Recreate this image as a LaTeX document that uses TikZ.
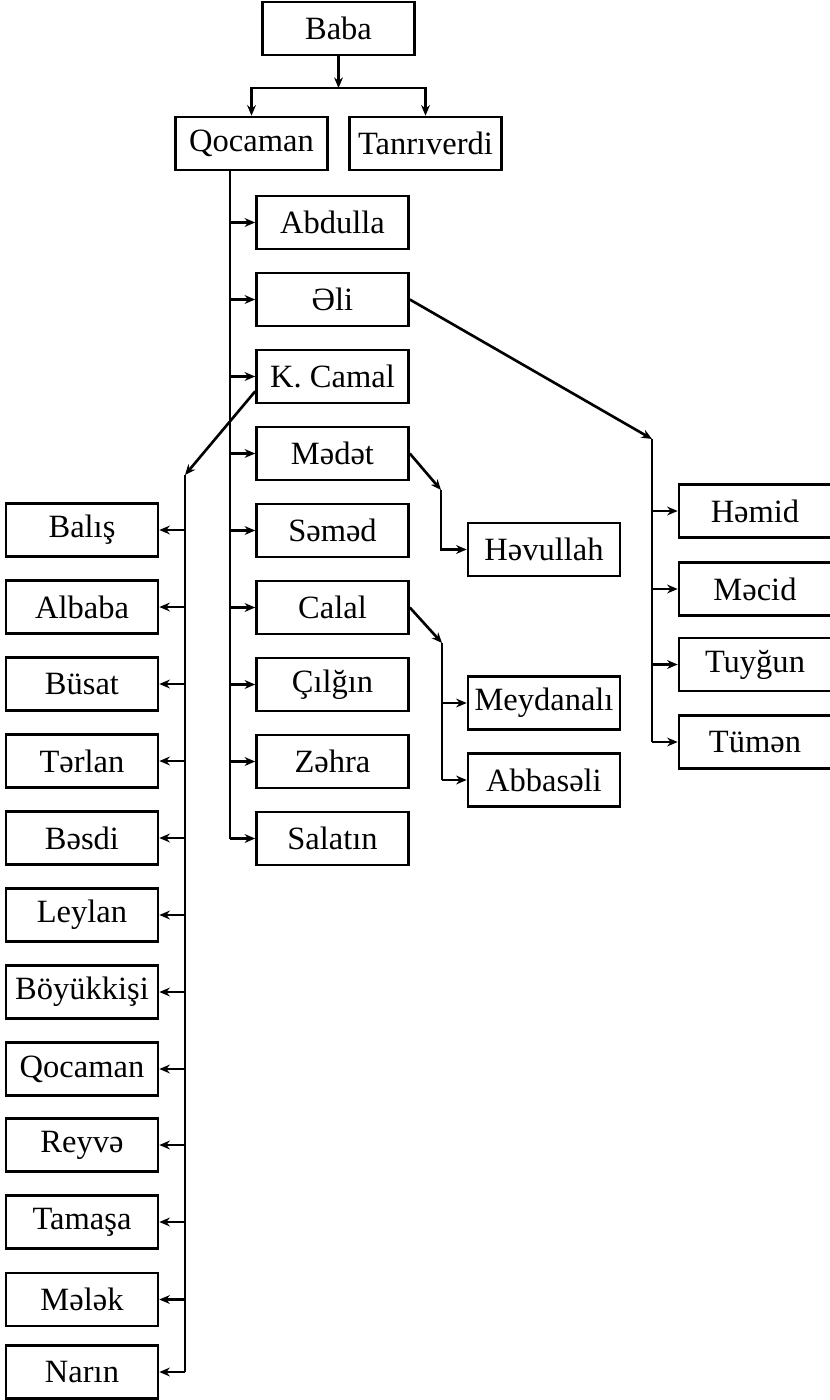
\documentclass[tikz,border=0pt]{standalone}
\usepackage{fontspec}
\setmainfont{Liberation Serif}
\usetikzlibrary{arrows.meta}
\def\BoxW{3.04cm}
\def\BoxH{1.06cm}

\begin{document}
\begin{tikzpicture}[x=0.02cm, y=-0.02cm, line width=1.5pt,
  >={Stealth[length=6pt, width=5pt]},
  person/.style={draw, minimum width=\BoxW, minimum height=\BoxH, inner sep=0pt,
    font=\fontsize{18.5}{20}\selectfont}]
  \useasboundingbox (0,0) rectangle (830,1400);

  \node[person] (baba) at (338.5, 28.5) {Baba};
  \node[person] (qocaman) at (251.5, 143.5) {Qocaman};
  \node[person] (tanriverdi) at (425.5, 143.5) {Tanrıverdi};

  % children of Qocaman
  \node[person] (abdulla) at (332.5, 222.5) {Abdulla};
  \node[person] (eli) at (332.5, 299.5) {Əli};
  \node[person] (kcamal) at (332.5, 376.5) {K. Camal};
  \node[person] (medet) at (332.5, 453.5) {Mədət};
  \node[person] (semed) at (332.5, 530.5) {Səməd};
  \node[person] (calal) at (332.5, 607.5) {Calal};
  \node[person] (cilgin) at (332.5, 684.5) {Çılğın};
  \node[person] (zehra) at (332.5, 761.5) {Zəhra};
  \node[person] (salatin) at (332.5, 838.5) {Salatın};

  \node[person] (hevullah) at (544, 549.5) {Həvullah};
  \node[person] (meydanali) at (544, 703) {Meydanalı};
  \node[person] (abbaseli) at (544, 780) {Abbasəli};

  \node[person] (hemid) at (755, 511) {Həmid};
  \node[person] (mecid) at (755, 589) {Məcid};
  \node[person] (tuygun) at (755, 664.5) {Tuyğun};
  \node[person] (tumen) at (755, 742) {Tümən};

  % children of K. Camal
  \node[person] (balis) at (82, 530) {Balış};
  \node[person] (albaba) at (82, 607) {Albaba};
  \node[person] (busat) at (82, 684) {Büsat};
  \node[person] (terlan) at (82, 761) {Tərlan};
  \node[person] (besdi) at (82, 838) {Bəsdi};
  \node[person] (leylan) at (82, 915) {Leylan};
  \node[person] (boyukkisi) at (82, 992) {Böyükkişi};
  \node[person] (qocaman2) at (82, 1069) {Qocaman};
  \node[person] (reyve) at (82, 1145) {Reyvə};
  \node[person] (tamasa) at (82, 1222) {Tamaşa};
  \node[person] (melek) at (82, 1299.5) {Mələk};
  \node[person] (narin) at (82, 1372) {Narın};

  \coordinate (split) at (338.5, 88);
  \coordinate (trunk) at ([xshift=-0.43cm]qocaman.south);
  \coordinate (eliknee) at (652, 439);
  \coordinate (medknee) at (441, 490);
  \coordinate (calknee) at (442, 643);
  \coordinate (kamknee) at (185, 475);

  \draw[->] (baba.south) -- (split);
  \draw[->] (split) -| (qocaman.north);
  \draw[->] (split) -| (tanriverdi.north);

  \draw (trunk) -- (trunk |- salatin.center);
  \draw[->] (trunk |- abdulla.center) -- (abdulla.west);
  \draw[->] (trunk |- eli.center) -- (eli.west);
  \draw[->] (trunk |- kcamal.center) -- (kcamal.west);
  \draw[->] (trunk |- medet.center) -- (medet.west);
  \draw[->] (trunk |- semed.center) -- (semed.west);
  \draw[->] (trunk |- calal.center) -- (calal.west);
  \draw[->] (trunk |- cilgin.center) -- (cilgin.west);
  \draw[->] (trunk |- zehra.center) -- (zehra.west);
  \draw[->] (trunk |- salatin.center) -- (salatin.west);

  \draw[->] (eli.east) -- (eliknee);
  \draw (eliknee) -- (eliknee |- tumen.center);
  \draw[->] (eliknee |- hemid.center) -- (hemid.west);
  \draw[->] (eliknee |- mecid.center) -- (mecid.west);
  \draw[->] (eliknee |- tuygun.center) -- (tuygun.west);
  \draw[->] (eliknee |- tumen.center) -- (tumen.west);

  \draw[->] (medet.east) -- (medknee);
  \draw[->] (medknee) |- (hevullah.west);

  \draw[->] (calal.east) -- (calknee);
  \draw (calknee) -- (calknee |- abbaseli.center);
  \draw[->] (calknee |- meydanali.center) -- (meydanali.west);
  \draw[->] (calknee |- abbaseli.center) -- (abbaseli.west);

  \draw[->] ([yshift=0.26cm]kcamal.south west) -- (kamknee);
  \draw (kamknee) -- (kamknee |- narin.center);
  \draw[->] (kamknee |- balis.center) -- (balis.east);
  \draw[->] (kamknee |- albaba.center) -- (albaba.east);
  \draw[->] (kamknee |- busat.center) -- (busat.east);
  \draw[->] (kamknee |- terlan.center) -- (terlan.east);
  \draw[->] (kamknee |- besdi.center) -- (besdi.east);
  \draw[->] (kamknee |- leylan.center) -- (leylan.east);
  \draw[->] (kamknee |- boyukkisi.center) -- (boyukkisi.east);
  \draw[->] (kamknee |- qocaman2.center) -- (qocaman2.east);
  \draw[->] (kamknee |- reyve.center) -- (reyve.east);
  \draw[->] (kamknee |- tamasa.center) -- (tamasa.east);
  \draw[->] (kamknee |- melek.center) -- (melek.east);
  \draw[->] (kamknee |- narin.center) -- (narin.east);
\end{tikzpicture}
\end{document}
